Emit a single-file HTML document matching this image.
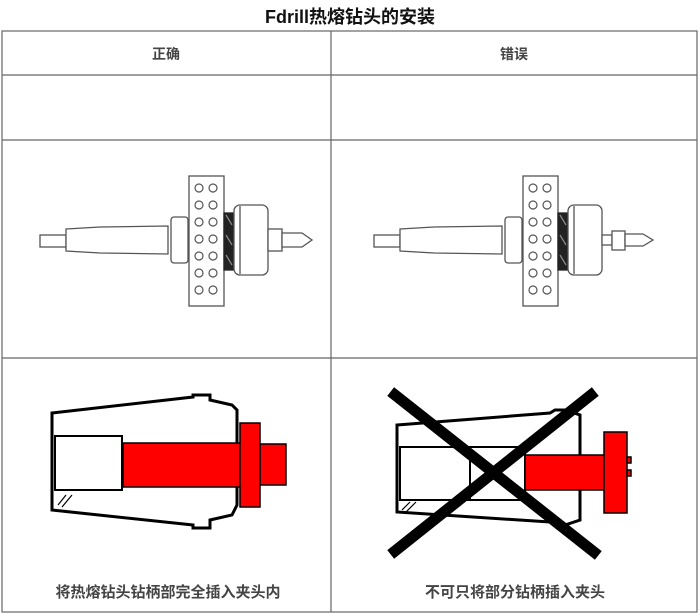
<!DOCTYPE html>
<html><head><meta charset="utf-8"><style>
html,body{margin:0;padding:0;background:#fff;}
svg{display:block;}
</style></head><body>
<svg width="700" height="616" viewBox="0 0 700 616" xmlns="http://www.w3.org/2000/svg">
<defs>
<g id="drill" fill="#fff" stroke="#555" stroke-width="1.3">
  <rect x="40" y="235" width="26" height="12"/>
  <path d="M66 229 L100 227 L168 226 L168 254 L100 253 L66 251 Z"/>
  <rect x="171" y="217" width="17" height="46" rx="3"/>
  <rect x="189" y="176" width="35" height="130"/>
  <g stroke-width="1.2">
    <circle cx="199" cy="188" r="4"/><circle cx="213" cy="188" r="4"/>
    <circle cx="199" cy="205" r="4"/><circle cx="213" cy="205" r="4"/>
    <circle cx="199" cy="222" r="4"/><circle cx="213" cy="222" r="4"/>
    <circle cx="199" cy="239" r="4"/><circle cx="213" cy="239" r="4"/>
    <circle cx="199" cy="256" r="4"/><circle cx="213" cy="256" r="4"/>
    <circle cx="199" cy="273" r="4"/><circle cx="213" cy="273" r="4"/>
    <circle cx="199" cy="290" r="4"/><circle cx="213" cy="290" r="4"/>
  </g>
  <rect x="224" y="213" width="10" height="57" fill="#222" stroke="#222"/>
  <path d="M226 215 L232 225 M226 235 L232 245 M226 255 L232 265" stroke="#888"/>
  <rect x="234" y="205" width="34" height="70" rx="6"/>
  <line x1="240" y1="206" x2="240" y2="274"/>
</g>
</defs>
<text x="350" y="23" text-anchor="middle" font-family="Liberation Sans, 'Noto Sans CJK SC', sans-serif" font-size="18" font-weight="bold" fill="#111">Fdrill热熔钻头的安装</text>
<g fill="none" stroke="#666" stroke-width="1.2">
  <rect x="2" y="31" width="695" height="581"/>
  <line x1="331" y1="31" x2="331" y2="612"/>
  <line x1="2" y1="75" x2="697" y2="75"/>
  <line x1="2" y1="140" x2="697" y2="140"/>
  <line x1="2" y1="358" x2="697" y2="358"/>
</g>
<g font-family="Liberation Sans, 'Noto Sans CJK SC', sans-serif" font-weight="bold" fill="#444" text-anchor="middle">
  <text x="166" y="59" font-size="14">正确</text>
  <text x="514" y="59" font-size="14">错误</text>
  <text x="168" y="597" font-size="15">将热熔钻头钻柄部完全插入夹头内</text>
  <text x="515" y="597" font-size="15">不可只将部分钻柄插入夹头</text>
</g>
<use href="#drill"/>
<g fill="#fff" stroke="#555" stroke-width="1.3">
  <rect x="268" y="229" width="14" height="22"/>
  <path d="M282 233 L302 233 L312 240 L302 247 L282 247 Z"/>
</g>
<use href="#drill" transform="translate(334,0)"/>
<g fill="#fff" stroke="#555" stroke-width="1.3">
  <rect x="602" y="235" width="10" height="10"/>
  <rect x="612" y="231" width="13" height="19"/>
  <path d="M625 234 L643 234 L653 240 L643 246 L625 246 Z"/>
</g>
<!-- bottom left collet -->
<g stroke="#000" stroke-width="3" fill="#fff">
  <path d="M52 413 L193 397 L193 395 L210 395 L210 400 L232 405 L237 410 L237 505 L232 515 L210 520 L210 528 L193 528 L193 525 L52 510 Z"/>
</g>
<rect x="55" y="436" width="67" height="54" fill="#fff" stroke="#000" stroke-width="2"/>
<path d="M58 505 L66 495 M62 507 L72 495" stroke="#000" stroke-width="1.2"/>
<g fill="#f00" stroke="#000" stroke-width="1.5">
  <rect x="123" y="443" width="117" height="44"/>
  <rect x="260" y="444" width="26" height="41"/>
  <rect x="240" y="423" width="20" height="84"/>
</g>
<!-- bottom right collet -->
<g stroke="#000" stroke-width="3" fill="#fff">
  <path d="M397 425 L550 413 L555 410 L565 410 L580 415 L580 520 L565 525 L555 525 L550 522 L397 512 Z"/>
</g>
<rect x="400" y="447" width="125" height="53" fill="#fff" stroke="#000" stroke-width="2"/>
<line x1="470" y1="447" x2="470" y2="500" stroke="#000" stroke-width="2"/>
<path d="M402 510 L410 502 M406 512 L416 502" stroke="#000" stroke-width="1.2"/>
<g fill="#f00" stroke="#000" stroke-width="1.5">
  <rect x="525" y="455" width="80" height="35"/>
  <rect x="604" y="432" width="23" height="81"/>
  <rect x="627" y="457" width="4" height="6"/>
  <rect x="627" y="470" width="4" height="6"/>
</g>
<g stroke="#000" stroke-width="11" stroke-linecap="square">
  <line x1="395" y1="395" x2="594" y2="552"/>
  <line x1="591" y1="395" x2="395" y2="551"/>
</g>
</svg>
</body></html>
